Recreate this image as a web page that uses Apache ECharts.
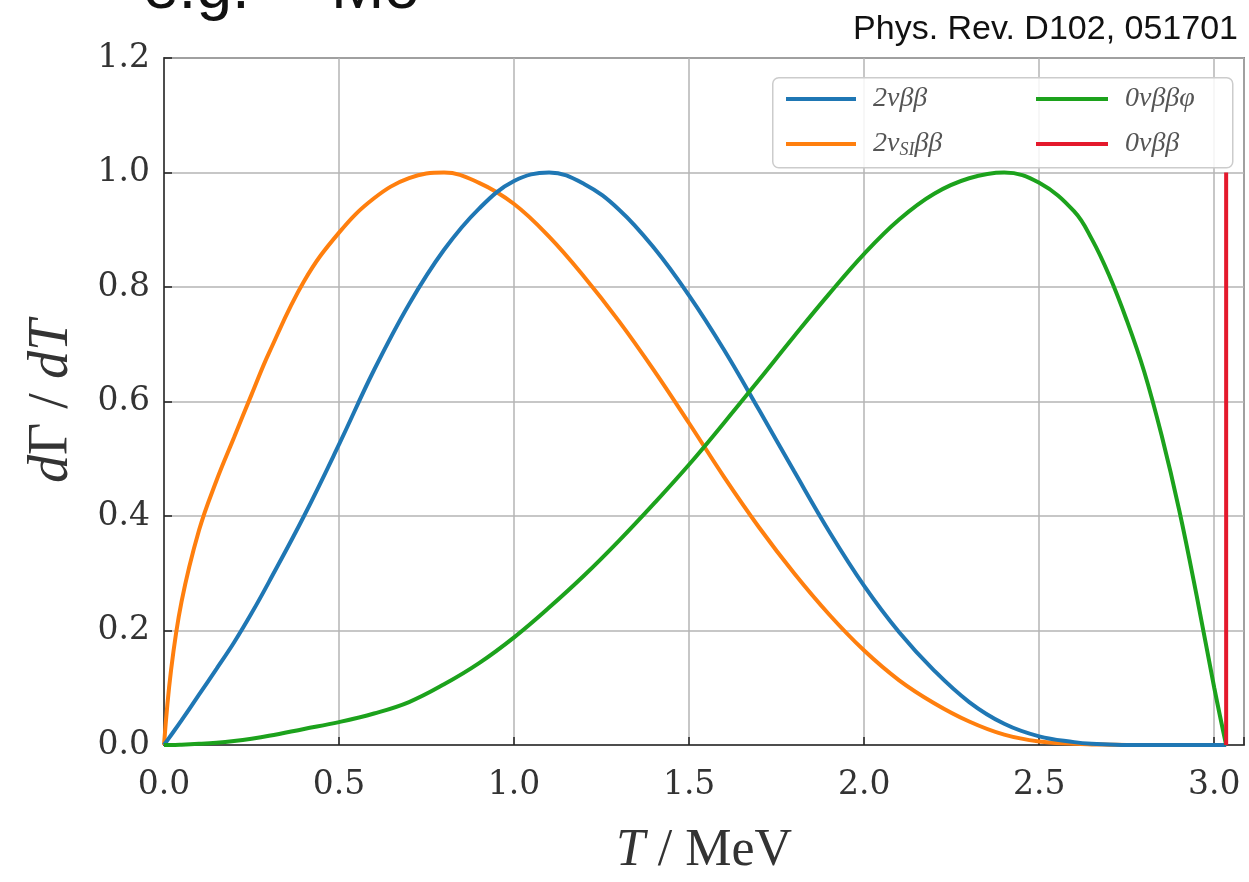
<!DOCTYPE html>
<html>
<head>
<meta charset="utf-8">
<script src="https://cdn.jsdelivr.net/npm/echarts@6/dist/echarts.min.js"></script>
<style>
html,body{margin:0;padding:0;background:#fff;}
#chart{width:1249px;height:882px;}
</style>
</head>
<body>
<div id="chart"></div>
<script>
// Kinetic energy grid (MeV)
const energy = [0, 0.02, 0.05, 0.1, 0.15, 0.2, 0.25, 0.3, 0.4, 0.5, 0.6, 0.7, 0.8, 0.9, 1.0, 1.1, 1.2, 1.3, 1.4, 1.5, 1.6, 1.7, 1.8, 1.9, 2.0, 2.1, 2.2, 2.3, 2.4, 2.5, 2.6, 2.65, 2.7, 2.75, 2.8, 2.85, 2.9, 2.95, 3.0, 3.034];
// 2νββ
const blueValues = [0, 0.017, 0.043, 0.088, 0.133, 0.179, 0.23, 0.285, 0.40, 0.525, 0.655, 0.77, 0.865, 0.937, 0.985, 1.0, 0.98, 0.935, 0.868, 0.785, 0.69, 0.585, 0.478, 0.373, 0.278, 0.197, 0.13, 0.075, 0.037, 0.015, 0.005, 0.002, 0.001, 0, 0, 0, 0, 0, 0, 0];
// 2ν_SI ββ
const orangeValues = [0, 0.13, 0.25, 0.375, 0.462, 0.537, 0.612, 0.685, 0.81, 0.895, 0.955, 0.99, 1.0, 0.982, 0.945, 0.888, 0.818, 0.74, 0.654, 0.562, 0.468, 0.38, 0.3, 0.228, 0.165, 0.113, 0.073, 0.041, 0.018, 0.006, 0.002, 0.001, 0.0005, 0, 0, 0, 0, 0, 0, 0];
// 0νββφ
const greenValues = [0, 0, 0.0005, 0.002, 0.004, 0.007, 0.011, 0.016, 0.028, 0.04, 0.055, 0.075, 0.106, 0.143, 0.188, 0.24, 0.296, 0.357, 0.422, 0.49, 0.563, 0.638, 0.714, 0.788, 0.858, 0.918, 0.963, 0.99, 1.0, 0.982, 0.932, 0.884, 0.82, 0.742, 0.652, 0.54, 0.41, 0.26, 0.1, 0];
// 0νββ line at Q value
const redX = [3.034, 3.034];
const redValues = [0, 1.0];

const names = ['2νββ', '2νSIββ', '0νββφ', '0νββ'];
const xTicks = [0, 0.5, 1.0, 1.5, 2.0, 2.5, 3.0];
const yTicks = [0, 0.2, 0.4, 0.6, 0.8, 1.0, 1.2];

function pairs(xs, ys){ return xs.map((x,i)=>[x, ys[i]]); }

const serifFont = '"Liberation Serif", "DejaVu Serif", serif';
const tickFont = '"DejaVu Serif", "Liberation Serif", serif';

const chart = echarts.init(document.getElementById('chart'), null, {renderer:'canvas'});

const legendRich = {
  a: {fontFamily: serifFont, fontStyle: 'italic', fontSize: 28, color: '#555', lineHeight: 30},
  s: {fontFamily: serifFont, fontStyle: 'italic', fontSize: 18, color: '#555', lineHeight: 14, verticalAlign: 'bottom'}
};
function legendFmt(name){
  if (name === '2νSIββ') return '{a|2ν}{s|SI}{a|ββ}';
  return '{a|' + name + '}';
}

const option = {
  animation: false,
  backgroundColor: '#fff',
  grid: {left: 164, right: 5, top: 58, bottom: 123, show: true, borderColor: '#333', borderWidth: 1.5, containLabel: false},
  graphic: [
    {type: 'rect', left: 772, top: 77, shape: {width: 460, height: 90, r: 6}, style: {fill: 'rgba(255,255,255,0.85)', stroke: '#cccccc', lineWidth: 1.5}, z: 5},
    {type: 'text', right: 11, top: 13, style: {text: 'Phys. Rev. D102, 051701', fontFamily: '"Liberation Sans", Arial, sans-serif', fontSize: 34, fill: '#111'}, z: 10},
    {type: 'text', left: 143, top: -42, style: {text: '{m|e.g. }{sup|100}{m|Mo}', rich: {m: {fontFamily: '"Liberation Sans", Arial, sans-serif', fontSize: 64, fill: '#111', verticalAlign: 'bottom'}, sup: {fontFamily: '"Liberation Sans", Arial, sans-serif', fontSize: 38, fill: '#111', verticalAlign: 'top'}}}, z: 10}
  ],
  legend: [
    {data: [names[0], names[1]], orient: 'vertical', left: 781, top: 80, itemWidth: 70, itemHeight: 4, itemGap: 17, icon: 'rect', formatter: legendFmt, textStyle: {rich: legendRich, padding: [0,0,0,12]}, z: 10},
    {data: [names[2], names[3]], orient: 'vertical', left: 1031, top: 80, itemWidth: 72, itemHeight: 4, itemGap: 17, icon: 'rect', formatter: legendFmt, textStyle: {rich: legendRich, padding: [0,0,0,12]}, z: 10}
  ],
  xAxis: {
    type: 'value', min: 0, max: 3.085, interval: 0.5,
    name: '{i|T}{r| / MeV}', nameLocation: 'middle', nameGap: 80,
    nameTextStyle: {rich: {i: {fontFamily: serifFont, fontStyle: 'italic', fontSize: 52, color: '#333'}, r: {fontFamily: serifFont, fontSize: 52, color: '#333'}}},
    axisLine: {show: true, lineStyle: {color: '#333', width: 1.5}},
    axisTick: {show: true, inside: true, length: 8, lineStyle: {color: '#222', width: 1.5}},
    axisLabel: {fontFamily: tickFont, fontSize: 33, color: '#333', margin: 24, formatter: v => xTicks.includes(v) ? v.toFixed(1) : ''},
    splitLine: {show: true, lineStyle: {color: '#b5b5b5', width: 1.5}}
  },
  yAxis: {
    type: 'value', min: 0, max: 1.2, interval: 0.2,
    name: '{i|d}{r|Γ / }{i|dT}', nameLocation: 'middle', nameGap: 84, nameRotate: 90,
    nameTextStyle: {rich: {i: {fontFamily: serifFont, fontStyle: 'italic', fontSize: 56, color: '#333'}, r: {fontFamily: serifFont, fontSize: 56, color: '#333'}}},
    axisLine: {show: true, lineStyle: {color: '#333', width: 1.5}},
    axisTick: {show: true, inside: true, length: 8, lineStyle: {color: '#222', width: 1.5}},
    axisLabel: {fontFamily: tickFont, fontSize: 33, color: '#333', margin: 14, formatter: v => yTicks.some(t => Math.abs(t - v) < 1e-9) ? v.toFixed(1) : ''},
    splitLine: {show: true, lineStyle: {color: '#b5b5b5', width: 1.5}}
  },
  series: [
    {name: names[0], type: 'line', data: pairs(energy, blueValues), smooth: 0.4, showSymbol: false, lineStyle: {width: 4, color: '#1f77b4'}, itemStyle: {color: '#1f77b4'}, z: 3},
    {name: names[1], type: 'line', data: pairs(energy, orangeValues), smooth: 0.4, showSymbol: false, lineStyle: {width: 4, color: '#ff7f0e'}, itemStyle: {color: '#ff7f0e'}, z: 2},
    {name: names[2], type: 'line', data: pairs(energy, greenValues), smooth: 0.4, showSymbol: false, lineStyle: {width: 4, color: '#1ca21c'}, itemStyle: {color: '#1ca21c'}, z: 4},
    {name: names[3], type: 'line', data: pairs(redX, redValues), showSymbol: false, lineStyle: {width: 4, color: '#e4192c'}, itemStyle: {color: '#e4192c'}, z: 5}
  ]
};
chart.setOption(option);
</script>
</body>
</html>
